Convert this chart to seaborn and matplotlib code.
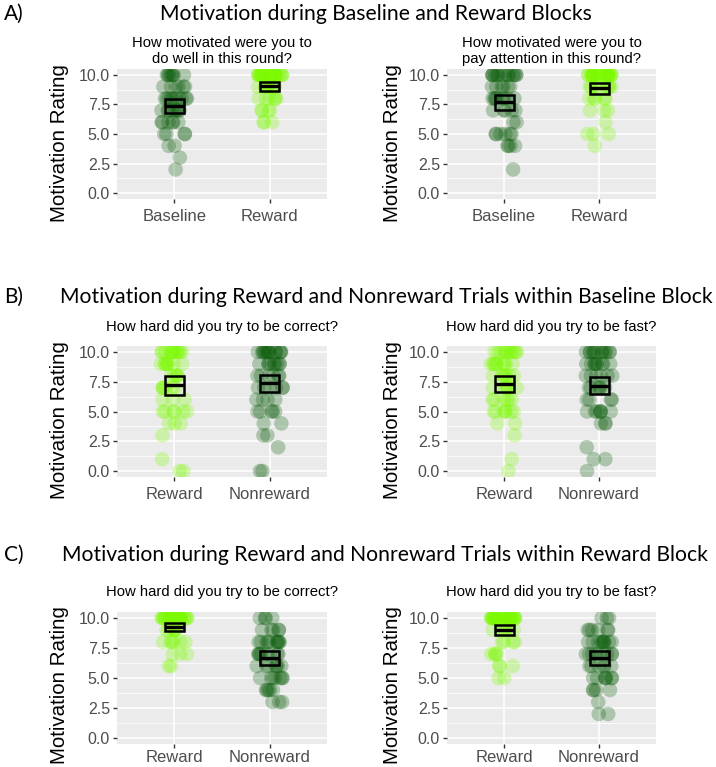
import numpy as np
import pandas as pd
import matplotlib
matplotlib.use("Agg")
import matplotlib.pyplot as plt
from matplotlib.patches import Rectangle
from matplotlib.ticker import FixedLocator
import seaborn as sns

# ---------------- data: number of participants giving each rating 0..10 ----------------
rating_values = list(range(0, 11))

# A) Baseline vs Reward blocks
a_well_baseline = [0, 0, 1, 1, 2, 4, 6, 8, 10, 6, 8]
a_well_reward = [0, 0, 0, 0, 0, 0, 3, 4, 6, 8, 25]
a_attn_baseline = [0, 0, 1, 0, 4, 6, 2, 5, 8, 6, 14]
a_attn_reward = [0, 0, 0, 0, 1, 3, 1, 3, 5, 8, 25]

# B) Reward vs Nonreward trials within Baseline block
b_correct_reward = [2, 1, 0, 1, 3, 6, 3, 6, 5, 8, 12]
b_correct_nonreward = [2, 0, 1, 2, 2, 5, 4, 6, 6, 9, 14]
b_fast_reward = [1, 1, 0, 1, 2, 7, 6, 6, 7, 9, 11]
b_fast_nonreward = [1, 2, 1, 0, 3, 7, 4, 6, 6, 9, 12]

# C) Reward vs Nonreward trials within Reward block
c_correct_reward = [0, 0, 0, 0, 0, 0, 2, 3, 6, 6, 30]
c_correct_nonreward = [0, 0, 0, 3, 5, 7, 7, 8, 10, 5, 4]
c_fast_reward = [0, 0, 0, 0, 0, 2, 3, 4, 4, 6, 31]
c_fast_nonreward = [0, 0, 2, 1, 4, 7, 6, 9, 10, 6, 3]

y_ticks = [0.0, 2.5, 5.0, 7.5, 10.0]
y_tick_labels = ["0.0", "2.5", "5.0", "7.5", "10.0"]

row_titles = [
    "Motivation during Baseline and Reward Blocks",
    "Motivation during Reward and Nonreward Trials within Baseline Block",
    "Motivation during Reward and Nonreward Trials within Reward Block",
]
row_letters = ["A)", "B)", "C)"]

panels = [
    dict(row=0, col=0, cats=["Baseline", "Reward"], counts=[a_well_baseline, a_well_reward],
         sub="How motivated were you to\ndo well in this round?"),
    dict(row=0, col=1, cats=["Baseline", "Reward"], counts=[a_attn_baseline, a_attn_reward],
         sub="How motivated were you to\npay attention in this round?"),
    dict(row=1, col=0, cats=["Reward", "Nonreward"], counts=[b_correct_reward, b_correct_nonreward],
         sub="How hard did you try to be correct?"),
    dict(row=1, col=1, cats=["Reward", "Nonreward"], counts=[b_fast_reward, b_fast_nonreward],
         sub="How hard did you try to be fast?"),
    dict(row=2, col=0, cats=["Reward", "Nonreward"], counts=[c_correct_reward, c_correct_nonreward],
         sub="How hard did you try to be correct?"),
    dict(row=2, col=1, cats=["Reward", "Nonreward"], counts=[c_fast_reward, c_fast_nonreward],
         sub="How hard did you try to be fast?"),
]

palette = {"Baseline": "#0B5E0B", "Nonreward": "#0B5E0B", "Reward": "#7CFC00"}

# ---------------- layout (pixels) ----------------
W, H = 716, 767
col_x = [(117, 327), (447, 656)]
row_y = [(69, 199), (346, 477), (612, 744)]
title_y = [14, 297, 555]
title_x = [376, 386, 385]
sub_y = [51, 327, 592]
xlab_pad = [4, 4, 1.5]

BODY = ["Liberation Sans", "Arial", "DejaVu Sans"]
TITLE = ["Lato", "DejaVu Sans"]

fig = plt.figure(figsize=(W / 100, H / 100), dpi=100)
fig.patch.set_facecolor("white")

def fx(px):
    return px / W

def fy(py):
    return 1 - py / H

np.random.seed(3)

for p in panels:
    (x0, x1), (y0, y1) = col_x[p["col"]], row_y[p["row"]]
    ax = fig.add_axes([fx(x0), fy(y1), fx(x1 - x0), (y1 - y0) / H])
    ax.set_facecolor("#EBEBEB")

    rows = []
    for cat, cnt in zip(p["cats"], p["counts"]):
        vals = np.repeat(rating_values, cnt)
        rows.append(pd.DataFrame({"condition": cat, "rating": vals}))
    df = pd.concat(rows, ignore_index=True)

    sns.stripplot(data=df, x="condition", y="rating", hue="condition", order=p["cats"],
                  hue_order=p["cats"], palette=palette, jitter=0.14, size=10.5,
                  alpha=0.28, linewidth=0, legend=False, ax=ax, zorder=3)

    # mean with 95% CI crossbar
    for i, cat in enumerate(p["cats"]):
        v = df.loc[df.condition == cat, "rating"].to_numpy(dtype=float)
        m = v.mean()
        se = v.std(ddof=1) / np.sqrt(len(v))
        lo, hi = m - 1.96 * se, m + 1.96 * se
        ax.add_patch(Rectangle((i - 0.1, lo), 0.2, hi - lo, fill=False,
                               edgecolor="black", linewidth=1.8, zorder=5))
        ax.plot([i - 0.1, i + 0.1], [m, m], color="black", linewidth=2.4,
                solid_capstyle="butt", zorder=6)

    ax.set_xlim(-0.6, 1.6)
    ax.set_ylim(-0.5, 10.5)
    ax.yaxis.set_major_locator(FixedLocator(y_ticks))
    ax.yaxis.set_minor_locator(FixedLocator([1.25, 3.75, 6.25, 8.75]))
    ax.set_yticklabels(y_tick_labels)
    ax.grid(which="major", color="white", linewidth=1.1, zorder=0)
    ax.grid(which="minor", axis="y", color="white", linewidth=0.55, zorder=0)
    ax.set_axisbelow(True)
    for s in ax.spines.values():
        s.set_visible(False)
    ax.tick_params(axis="both", which="major", length=3, width=1, color="#333333",
                   labelcolor="#4D4D4D", labelsize=11.5, pad=2)
    ax.tick_params(axis="x", which="major", labelsize=12, pad=xlab_pad[p["row"]])
    ax.tick_params(axis="y", which="minor", length=0)
    for lab in ax.get_xticklabels() + ax.get_yticklabels():
        lab.set_family(BODY)
    ax.set_xlabel("")
    ax.set_ylabel("")

    # y label
    ylx = 60 if p["col"] == 0 else 392
    yshift = 9 if p["row"] < 2 else 7
    fig.text(fx(ylx), fy((y0 + y1) / 2 + yshift), "Motivation Rating", rotation=90,
             ha="center", va="center", fontsize=14.8, family=BODY, color="black")
    # subtitle
    fig.text(fx((x0 + x1) / 2), fy(sub_y[p["row"]]), p["sub"], ha="center", va="center",
             fontsize=10.7, family=BODY, color="black", linespacing=1.1)

for r in range(3):
    fig.text(fx(title_x[r]), fy(title_y[r]), row_titles[r], ha="center", va="center",
             fontsize=15.2, family=TITLE, color="black")
    fig.text(fx(4), fy(title_y[r]), row_letters[r], ha="left", va="center",
             fontsize=15, family=TITLE, color="black")

fig.savefig("out.png", dpi=100, facecolor="white")
